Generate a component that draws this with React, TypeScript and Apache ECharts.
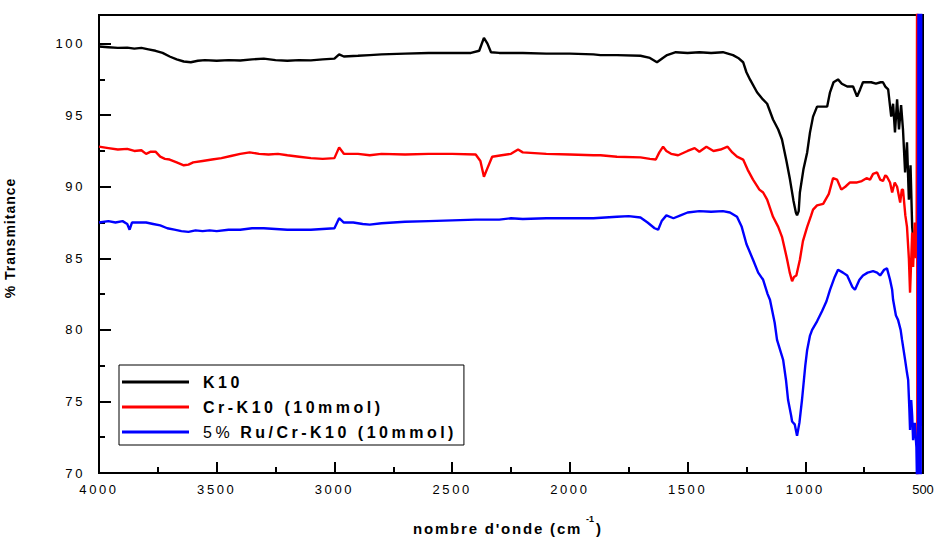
import React, { useEffect, useRef } from "react";
import * as echarts from "echarts";

const NAME_K10 = "K10";
const NAME_CR = "Cr-K10 (10mmol)";
const NAME_RU = "5% Ru/Cr-K10 (10mmol)";

const X_TICKS = [4000, 3500, 3000, 2500, 2000, 1500, 1000, 500];
const Y_TICKS = [70, 75, 80, 85, 90, 95, 100];
const X_TITLE = "nombre d'onde (cm";
const X_TITLE_SUP = "-1";
const X_TITLE_END = ")";
const Y_TITLE = "% Transmitance";

// [wavenumber cm-1, % transmittance]
const k10Points: number[][] = [
  [4000, 99.8], [3960, 99.75], [3920, 99.7], [3880, 99.72], [3850, 99.65], [3820, 99.7], [3790, 99.6],
  [3760, 99.5], [3730, 99.35], [3700, 99.1], [3670, 98.9], [3640, 98.75], [3610, 98.7], [3580, 98.8],
  [3550, 98.85], [3500, 98.8], [3450, 98.85], [3400, 98.82], [3350, 98.9], [3300, 98.95], [3250, 98.85],
  [3200, 98.8], [3150, 98.85], [3100, 98.83], [3050, 98.9], [3000, 98.95], [2980, 99.25], [2960, 99.1],
  [2900, 99.15], [2850, 99.2], [2800, 99.25], [2700, 99.3], [2600, 99.35], [2500, 99.35], [2420, 99.35],
  [2385, 99.5], [2365, 100.4], [2350, 100.0], [2335, 99.4], [2300, 99.35], [2200, 99.35], [2100, 99.3],
  [2000, 99.3], [1900, 99.25], [1870, 99.2], [1800, 99.2], [1700, 99.15], [1660, 99.0], [1630, 98.7],
  [1605, 99.0], [1587, 99.2], [1550, 99.4], [1500, 99.35], [1450, 99.4], [1400, 99.35], [1350, 99.4],
  [1307, 99.2], [1285, 99.0], [1264, 98.7], [1250, 98.0], [1235, 97.5], [1205, 96.6], [1180, 96.1],
  [1162, 95.8], [1137, 94.7], [1115, 94.0], [1099, 93.3], [1080, 91.8], [1065, 90.5], [1050, 89.0],
  [1040, 88.2], [1035, 88.0], [1028, 88.3], [1023, 89.6], [1008, 91.2], [992, 92.4], [980, 93.8],
  [967, 94.9], [950, 95.6], [930, 95.6], [907, 95.6], [895, 96.6], [880, 97.3], [861, 97.5], [845, 97.2],
  [822, 97.0], [797, 97.0], [780, 96.3], [767, 96.8], [755, 97.3], [720, 97.3], [700, 97.2], [680, 97.3],
  [670, 97.3], [660, 97.0], [648, 96.8], [635, 94.9], [627, 95.8], [619, 93.8], [610, 96.1], [602, 94.0],
  [593, 95.7], [585, 94.0], [576, 91.0], [568, 93.1], [560, 89.1], [553, 91.5], [546, 87.2], [540, 86.0],
  [535, 86.5],
];

const crPoints: number[][] = [
  [4000, 92.8], [3960, 92.7], [3920, 92.6], [3880, 92.65], [3850, 92.5], [3820, 92.55], [3800, 92.3],
  [3780, 92.45], [3760, 92.45], [3740, 92.1], [3720, 91.95], [3700, 91.9], [3670, 91.7], [3640, 91.5],
  [3620, 91.55], [3600, 91.7], [3560, 91.8], [3520, 91.9], [3480, 92.0], [3440, 92.15], [3400, 92.3],
  [3360, 92.4], [3320, 92.3], [3280, 92.25], [3240, 92.3], [3200, 92.2], [3150, 92.1], [3100, 92.0],
  [3050, 91.95], [3000, 92.0], [2980, 92.75], [2960, 92.3], [2900, 92.3], [2850, 92.2], [2800, 92.3],
  [2700, 92.25], [2600, 92.3], [2500, 92.3], [2400, 92.25], [2380, 91.8], [2365, 90.7], [2350, 91.3],
  [2330, 92.1], [2290, 92.2], [2250, 92.3], [2220, 92.6], [2200, 92.4], [2100, 92.3], [2000, 92.25],
  [1900, 92.2], [1870, 92.2], [1800, 92.1], [1700, 92.05], [1660, 91.95], [1635, 91.9], [1620, 92.4],
  [1604, 92.8], [1590, 92.5], [1570, 92.3], [1540, 92.2], [1500, 92.5], [1470, 92.7], [1450, 92.45],
  [1420, 92.8], [1390, 92.5], [1360, 92.6], [1330, 92.8], [1310, 92.4], [1290, 92.1], [1264, 91.9],
  [1245, 91.2], [1222, 90.5], [1195, 89.8], [1179, 89.6], [1162, 89.1], [1137, 87.9], [1115, 87.2],
  [1099, 86.5], [1085, 85.5], [1077, 84.9], [1066, 84.0], [1056, 83.4], [1048, 83.7], [1038, 83.8],
  [1023, 84.9], [1010, 86.2], [992, 87.2], [975, 88.0], [967, 88.4], [950, 88.7], [924, 88.8],
  [900, 89.5], [882, 90.6], [865, 90.5], [847, 89.8], [830, 90.0], [810, 90.3], [780, 90.3],
  [760, 90.4], [740, 90.6], [725, 90.5], [712, 90.9], [695, 91.0], [682, 90.5], [670, 90.4],
  [660, 90.8], [653, 90.7], [640, 90.3], [631, 89.6], [620, 90.3], [610, 90.0], [597, 88.9],
  [590, 89.8], [585, 89.8], [575, 88.0], [568, 87.2], [560, 85.0], [555, 82.6], [546, 86.8],
  [542, 84.4], [535, 87.5], [530, 85.0], [527, 86.0], [525, 106], [524, 68],
];

const ruPoints: number[][] = [
  [4000, 87.5], [3960, 87.6], [3930, 87.5], [3900, 87.6], [3880, 87.4], [3870, 87.0], [3860, 87.5],
  [3830, 87.5], [3800, 87.5], [3770, 87.4], [3740, 87.3], [3710, 87.1], [3680, 87.0], [3650, 86.9],
  [3620, 86.85], [3590, 86.95], [3560, 86.9], [3530, 86.95], [3500, 86.9], [3450, 87.0], [3400, 87.0],
  [3350, 87.1], [3300, 87.1], [3250, 87.05], [3200, 87.0], [3150, 87.0], [3100, 87.0], [3050, 87.05],
  [3000, 87.1], [2980, 87.8], [2960, 87.5], [2920, 87.5], [2880, 87.4], [2850, 87.35], [2800, 87.45],
  [2750, 87.5], [2700, 87.55], [2600, 87.6], [2500, 87.65], [2400, 87.7], [2300, 87.7], [2250, 87.8],
  [2200, 87.75], [2100, 87.8], [2000, 87.8], [1900, 87.8], [1800, 87.9], [1750, 87.95], [1700, 87.85],
  [1670, 87.5], [1640, 87.1], [1625, 87.0], [1610, 87.6], [1590, 88.0], [1560, 87.8], [1530, 88.0],
  [1500, 88.2], [1450, 88.3], [1400, 88.25], [1350, 88.3], [1320, 88.2], [1290, 87.9], [1270, 87.2],
  [1250, 86.0], [1222, 84.9], [1200, 84.0], [1179, 83.5], [1160, 82.5], [1150, 82.1], [1130, 80.5],
  [1120, 79.3], [1094, 77.9], [1082, 76.5], [1073, 75.1], [1060, 74.0], [1056, 73.6], [1045, 73.4],
  [1035, 72.6], [1025, 73.5], [1014, 75.1], [1000, 77.5], [992, 78.6], [980, 79.6], [971, 80.0],
  [950, 80.6], [929, 81.3], [910, 82.0], [895, 82.8], [875, 83.7], [861, 84.2], [840, 84.0],
  [822, 83.8], [800, 83.0], [789, 82.8], [770, 83.5], [755, 83.8], [735, 84.0], [712, 84.1],
  [695, 84.0], [682, 83.8], [665, 84.2], [653, 84.3], [640, 83.5], [631, 82.8], [627, 82.1],
  [615, 81.0], [606, 80.7], [595, 80.0], [589, 79.3], [576, 77.9], [568, 77.0], [563, 76.5],
  [558, 74.5], [555, 73.0], [550, 75.1], [546, 74.0], [542, 72.3], [535, 73.5], [528, 71.8],
  [521, 65], [519, 110], [516, 65], [513, 110], [510, 65], [507, 110],
];

const FONT = "'Liberation Sans', Arial, sans-serif";

const SPACING_CSS = `
.irchart text[style*="13px"] { letter-spacing: 2.6px; }
.irchart text[style*="16px"] { letter-spacing: 3.5px; }
.irchart text[style*="15px"] { letter-spacing: 1.8px; }
.irchart text[style*="14px"] { letter-spacing: 1px; }
`;

function applySpacing(root: HTMLElement) {
  root.querySelectorAll("text").forEach((t) => {
    const s = (t.textContent || "").trim();
    let ls = -1;
    if (s === "500") ls = 0;
    else if (/^\d+$/.test(s)) ls = 2.6;
    else if (s === NAME_K10 || s === NAME_CR || s === "5%" || s === "Ru/Cr-K10 (10mmol)") ls = 3.5;
    else if (s === X_TITLE) ls = 1.8;
    else if (s === Y_TITLE) ls = 1;
    if (ls >= 0) (t as SVGTextElement).style.letterSpacing = ls + "px";
  });
}

export default function App() {
  const ref = useRef<HTMLDivElement>(null);
  useEffect(() => {
    if (!ref.current) return;
    const chart = echarts.init(ref.current, undefined, { renderer: "svg" });
    const mk = (name: string, data: number[][], color: string) => ({
      name,
      type: "line",
      data,
      showSymbol: false,
      symbol: "none",
      color,
      lineStyle: { color, width: 2.4 },
      clip: true,
    });
    const titleFont = "bold 15px " + FONT;
    chart.setOption({
      animation: false,
      backgroundColor: "#fff",
      textStyle: { fontFamily: FONT },
      grid: {
        left: 99,
        right: 13,
        top: 15,
        bottom: 64,
        show: true,
        borderColor: "#000",
        borderWidth: 2,
        containLabel: false,
        outerBoundsMode: "none",
      },
      graphic: [
        {
          type: "text",
          x: 413,
          y: 528,
          style: { text: X_TITLE, font: titleFont, fill: "#000", textAlign: "left", textVerticalAlign: "middle" },
        },
        {
          type: "text",
          x: 586,
          y: 519,
          style: { text: X_TITLE_SUP, font: "bold 9px " + FONT, fill: "#000", textAlign: "left", textVerticalAlign: "middle" },
        },
        {
          type: "text",
          x: 596,
          y: 528,
          style: { text: X_TITLE_END, font: titleFont, fill: "#000", textAlign: "left", textVerticalAlign: "middle" },
        },
      ],
      legend: {
        left: 119,
        top: 365,
        orient: "vertical",
        data: [NAME_K10, NAME_CR, NAME_RU],
        borderColor: "#000",
        borderWidth: 1,
        padding: [9, 70, 5, 3],
        itemWidth: 67,
        itemHeight: 14,
        itemGap: 9,
        icon: "path://M0,0 L67,0 L67,3 L0,3 Z",
        formatter: (name: string) =>
          name === NAME_RU ? "{r|5%}{b|Ru/Cr-K10 (10mmol)}" : "{b|" + name + "}",
        textStyle: {
          fontFamily: FONT,
          fontSize: 16,
          color: "#000",
          padding: [0, 0, 0, 9],
          rich: {
            r: { fontFamily: FONT, fontSize: 16, fontWeight: "normal", color: "#000", padding: [0, 14, 0, 0] },
            b: { fontFamily: FONT, fontSize: 16, fontWeight: "bold", color: "#000" },
          },
        },
      },
      xAxis: {
        type: "value",
        inverse: true,
        min: X_TICKS[X_TICKS.length - 1],
        max: X_TICKS[0],
        interval: 500,
        axisLine: { lineStyle: { color: "#000", width: 2 } },
        axisTick: { inside: true, length: 11, lineStyle: { color: "#000", width: 2 } },
        minorTick: { show: true, splitNumber: 2, length: 6, lineStyle: { color: "#000", width: 2 } },
        axisLabel: {
          fontFamily: FONT,
          fontSize: 13,
          color: "#000",
          margin: 10,
          formatter: (v: number) => (v === 500 ? "{e|" + v + "}" : String(v)),
          rich: { e: { fontFamily: FONT, fontSize: 12.9, color: "#000" } },
        },
        splitLine: { show: false },
      },
      yAxis: {
        type: "value",
        min: Y_TICKS[0],
        max: 102,
        interval: 5,
        name: Y_TITLE,
        nameLocation: "middle",
        nameGap: 82,
        nameTextStyle: { fontFamily: FONT, fontSize: 14, fontWeight: "bold", color: "#000", padding: [0, 0, 0, 12] },
        axisLine: { lineStyle: { color: "#000", width: 2 } },
        axisTick: { inside: true, length: 12, lineStyle: { color: "#000", width: 2 } },
        minorTick: { show: true, splitNumber: 2, length: 6, lineStyle: { color: "#000", width: 2 } },
        axisLabel: {
          fontFamily: FONT,
          fontSize: 13,
          color: "#000",
          margin: 14,
          showMaxLabel: false,
          formatter: (v: number) => (Y_TICKS.includes(v) ? String(v) : ""),
        },
        splitLine: { show: false },
      },
      series: [
        mk(NAME_K10, k10Points, "#000000"),
        mk(NAME_CR, crPoints, "#ff0000"),
        mk(NAME_RU, ruPoints, "#0000ff"),
      ],
    });
    const el = ref.current;
    const fix = () => applySpacing(el);
    chart.on("finished", fix);
    const t1 = setTimeout(fix, 50);
    const t2 = setTimeout(fix, 300);
    return () => {
      clearTimeout(t1);
      clearTimeout(t2);
      chart.dispose();
    };
  }, []);
  return (
    <>
      <style>{SPACING_CSS}</style>
      <div
        ref={ref}
        className="irchart"
        style={{ position: "fixed", left: 0, top: 0, width: 936, height: 537, background: "#fff" }}
      />
    </>
  );
}
